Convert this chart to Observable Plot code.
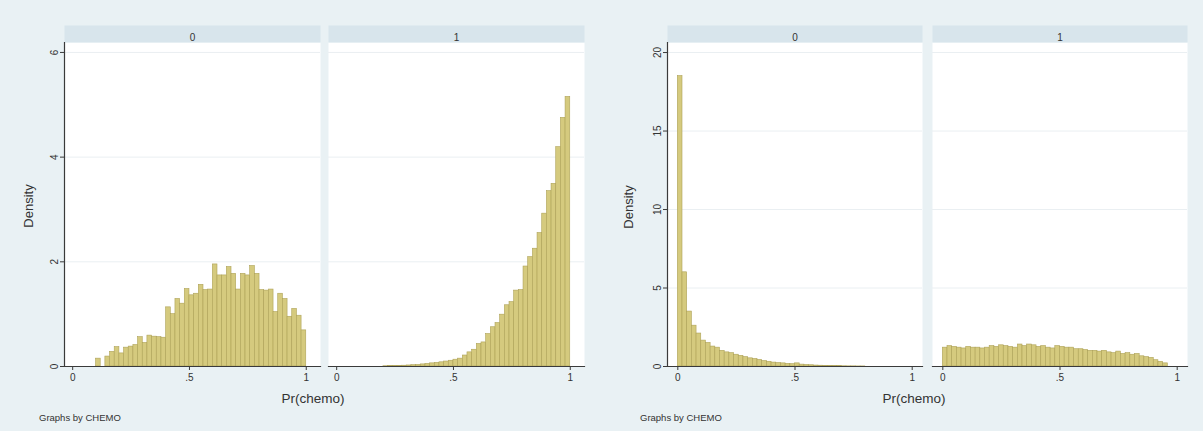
<!DOCTYPE html>
<html>
<head>
<meta charset="utf-8">
<script src="https://cdn.jsdelivr.net/npm/d3@7"></script>
<script src="https://cdn.jsdelivr.net/npm/@observablehq/plot@0.6"></script>
<style>
  html, body { margin: 0; padding: 0; background: #e9f1f4; }
  #root { position: relative; width: 1203px; height: 431px; background: #e9f1f4; overflow: hidden;
          font-family: "Liberation Sans", Arial, sans-serif; color: #333; }
  .panel { position: absolute; top: 0; }
  .lbl { position: absolute; white-space: nowrap; color: #333; }
  .ytitle { font-size: 13px; transform: translate(-50%, -50%) rotate(-90deg); }
  .xtitle { font-size: 13.5px; transform: translate(-50%, -50%); }
  .note { font-size: 9.5px; transform: translateY(-50%); }
</style>
</head>
<body>
<div id="root">
  <div id="left" class="panel" style="left:0px"></div>
  <div id="right" class="panel" style="left:600px"></div>
  <div class="lbl ytitle" style="left:28px; top:206px">Density</div>
  <div class="lbl ytitle" style="left:628px; top:207px">Density</div>
  <div class="lbl xtitle" style="left:313px; top:398px">Pr(chemo)</div>
  <div class="lbl xtitle" style="left:914px; top:398px">Pr(chemo)</div>
  <div class="lbl note" style="left:39px; top:417px">Graphs by CHEMO</div>
  <div class="lbl note" style="left:640px; top:417px">Graphs by CHEMO</div>
</div>
<script>
// ---- data (densities per bin of width 0.02) ----
const facets = ["0", "1"];
const binWidth = 0.02;

// Left graph, CHEMO = 0 : bins starting at 0.10
const left0Start = 0.10;
const left0 = [0.15, 0, 0.19, 0.28, 0.37, 0.25, 0.36, 0.38, 0.41, 0.56, 0.45, 0.59, 0.57, 0.56, 0.55,
  1.13, 1.0, 1.29, 1.2, 1.48, 1.36, 1.39, 1.56, 1.46, 1.47, 1.95, 1.74, 1.74, 1.9, 1.77,
  1.47, 1.77, 1.74, 1.92, 1.77, 1.46, 1.45, 1.47, 1.04, 1.39, 1.29, 0.95, 1.1, 0.97, 0.69];

// Left graph, CHEMO = 1 : bins starting at 0.20
const left1Start = 0.20;
const left1 = [0.005, 0.007, 0.01, 0.012, 0.015, 0.02, 0.025, 0.03, 0.04, 0.05, 0.06, 0.07, 0.08, 0.095,
  0.11, 0.13, 0.15, 0.21, 0.27, 0.32, 0.43, 0.46, 0.62, 0.75, 0.83, 0.99, 1.17, 1.23, 1.45, 1.46,
  1.91, 2.09, 2.25, 2.55, 2.92, 3.35, 3.49, 4.19, 4.75, 5.15];

// Right graph, CHEMO = 0 : bins starting at 0
const right0Start = 0;
const right0 = [18.5, 6.0, 3.5, 2.6, 2.1, 1.65, 1.5, 1.27, 1.2, 1.0, 0.9, 0.85, 0.75, 0.68, 0.6,
  0.52, 0.48, 0.42, 0.35, 0.3, 0.25, 0.22, 0.2, 0.17, 0.15, 0.2, 0.12, 0.1, 0.08, 0.06,
  0.05, 0.04, 0.03, 0.02, 0.02, 0.015, 0.01, 0.01, 0.005, 0.005];

// Right graph, CHEMO = 1 : bins starting at 0
const right1Start = 0;
const right1 = [1.2, 1.3, 1.25, 1.2, 1.15, 1.25, 1.2, 1.2, 1.15, 1.2, 1.3, 1.25, 1.35, 1.3, 1.25,
  1.2, 1.4, 1.3, 1.4, 1.35, 1.25, 1.3, 1.2, 1.15, 1.3, 1.25, 1.2, 1.2, 1.1, 1.1,
  1.05, 1.0, 1.0, 0.95, 1.0, 0.9, 0.85, 0.95, 0.8, 0.85, 0.75, 0.8, 0.65, 0.6, 0.55, 0.4, 0.3, 0.2];

// axes / ticks
const xTicks = [0, 0.5, 1];
const leftYTicks = [0, 2, 4, 6];
const rightYTicks = [0, 5, 10, 15, 20];
const xTickFormat = d => d === 0.5 ? ".5" : String(d);
const yTickFormat = d => String(d);

function toRows(values, start, facet) {
  return values.map((v, i) => ({fx: facet, x1: start + i * binWidth, x2: start + (i + 1) * binWidth, y: v}));
}

const barFill = "#d5ca7e";
const barStroke = "#aea257";
const axisColor = "#3a3a3a";

function graph({data, width, marginLeft, marginRight, xDomain, yDomain, yTicks, paddingInner}) {
  const marginTop = 42, marginBottom = 65, height = 431;
  const frameH = height - marginTop - marginBottom;
  return Plot.plot({
    width, height, marginLeft, marginRight, marginTop, marginBottom,
    style: {background: "transparent", fontFamily: "Liberation Sans, Arial, sans-serif", fontSize: "10px", color: "#333"},
    fx: {domain: facets, paddingInner, paddingOuter: 0, axis: null},
    x: {domain: xDomain},
    y: {domain: yDomain},
    marks: [
      Plot.frame({fill: "white", stroke: "none"}),
      Plot.frame({fill: "#d8e5ec", stroke: "none", insetTop: -17, insetBottom: frameH}),
      Plot.gridY(yTicks.filter(t => t > 0), {stroke: "#eaeff2", strokeOpacity: 1, strokeWidth: 1}),
      Plot.rectY(data, {fx: "fx", x1: "x1", x2: "x2", y: "y", fill: barFill, stroke: barStroke, strokeWidth: 0.6}),
      Plot.text(facets, {fx: d => d, text: d => d, frameAnchor: "top", dy: -8.5, fontSize: 10, fill: "#333"}),
      Plot.frame({anchor: "bottom", stroke: axisColor, strokeWidth: 1.2}),
      Plot.frame({anchor: "left", stroke: axisColor, strokeWidth: 1.2, facetAnchor: "left"}),
      Plot.axisX({ticks: xTicks, tickFormat: xTickFormat, tickSize: 4, tickPadding: 3, label: null, stroke: axisColor, fill: "#333"}),
      Plot.axisY({ticks: yTicks, tickFormat: yTickFormat, tickSize: 4, tickPadding: 3, tickRotate: -90, label: null, stroke: axisColor, fill: "#333"})
    ]
  });
}

const leftData = [...toRows(left0, left0Start, "0"), ...toRows(left1, left1Start, "1")];
const rightData = [...toRows(right0, right0Start, "0"), ...toRows(right1, right1Start, "1")];

document.getElementById("left").appendChild(graph({
  data: leftData, width: 600, marginLeft: 64, marginRight: 15,
  xDomain: [-0.035, 1.061], yDomain: [0, 6.19], yTicks: leftYTicks, paddingInner: 8 / 264.5
}));
document.getElementById("right").appendChild(graph({
  data: rightData, width: 603, marginLeft: 67, marginRight: 16,
  xDomain: [-0.044, 1.044], yDomain: [0, 20.64], yTicks: rightYTicks, paddingInner: 10 / 265
}));
</script>
</body>
</html>
